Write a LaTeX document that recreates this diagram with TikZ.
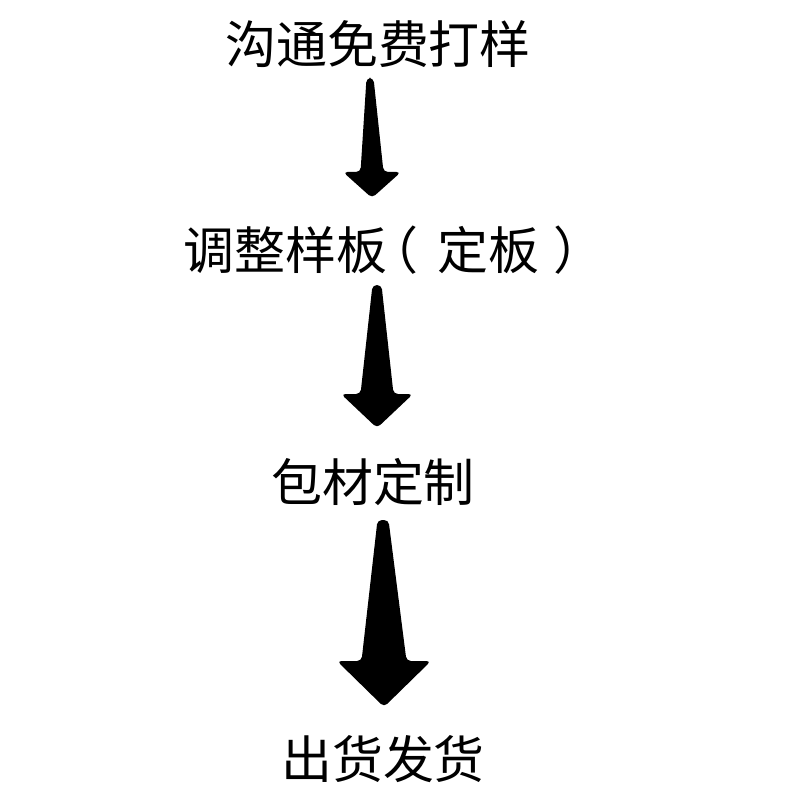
\documentclass[tikz,border=0pt]{standalone}
\usepackage{fontspec}
\newfontfamily\cjk{Noto Sans CJK SC}
\usetikzlibrary{calc}
\tikzset{
  steptext/.style = {inner sep=0pt, font=\cjk\fontsize{29pt}{34pt}\selectfont},
  arrowfill/.style = {fill=black, rounded corners=2.5pt}
}
% #1 top, #2 tip, #3 top half width, #4 shaft half width, #5 head half width, #6 head height
\newcommand{\flowarrow}[6]{%
  \fill[arrowfill] ($(#1)+(-#3,0)$) -- ($(#2)+(-#4,-#6)$) -- ($(#2)+(-#5,-#6)$)
    -- (#2) -- ($(#2)+(#5,-#6)$) -- ($(#2)+(#4,-#6)$) -- ($(#1)+(#3,0)$) -- cycle;
}
% centred full-width brackets
\newcommand{\lbr}{\kern-0.38em（\kern0.38em}
\newcommand{\rbr}{\kern0.26em）\kern-0.26em}

\begin{document}
\begin{tikzpicture}[x=0.02cm, y=-0.02cm]
    \useasboundingbox (0,0) rectangle (800,800);
    % Steps
    \node[steptext] (n1) at (378,44) {沟通免费打样};
    \node[steptext] (n2) at (387,250) {调整样板\lbr 定板\rbr};
    \node[steptext] (n3) at (373,482) {包材定制};
    \node[steptext] (n4) at (383,759) {出货发货};
    % Arrow ends
    \coordinate (a1t) at (370,78);
    \coordinate (a1e) at (372,198);
    \coordinate (a2t) at (377,285);
    \coordinate (a2e) at (377,428);
    \coordinate (a3t) at (383,520);
    \coordinate (a3e) at (384,707);
    % Arrows
    \flowarrow{a1t}{a1e}{3.5}{11.5}{29}{26}
    \flowarrow{a2t}{a2e}{4.5}{16.5}{36}{34}
    \flowarrow{a3t}{a3e}{5.5}{22.5}{47}{46}
\end{tikzpicture}
\end{document}
